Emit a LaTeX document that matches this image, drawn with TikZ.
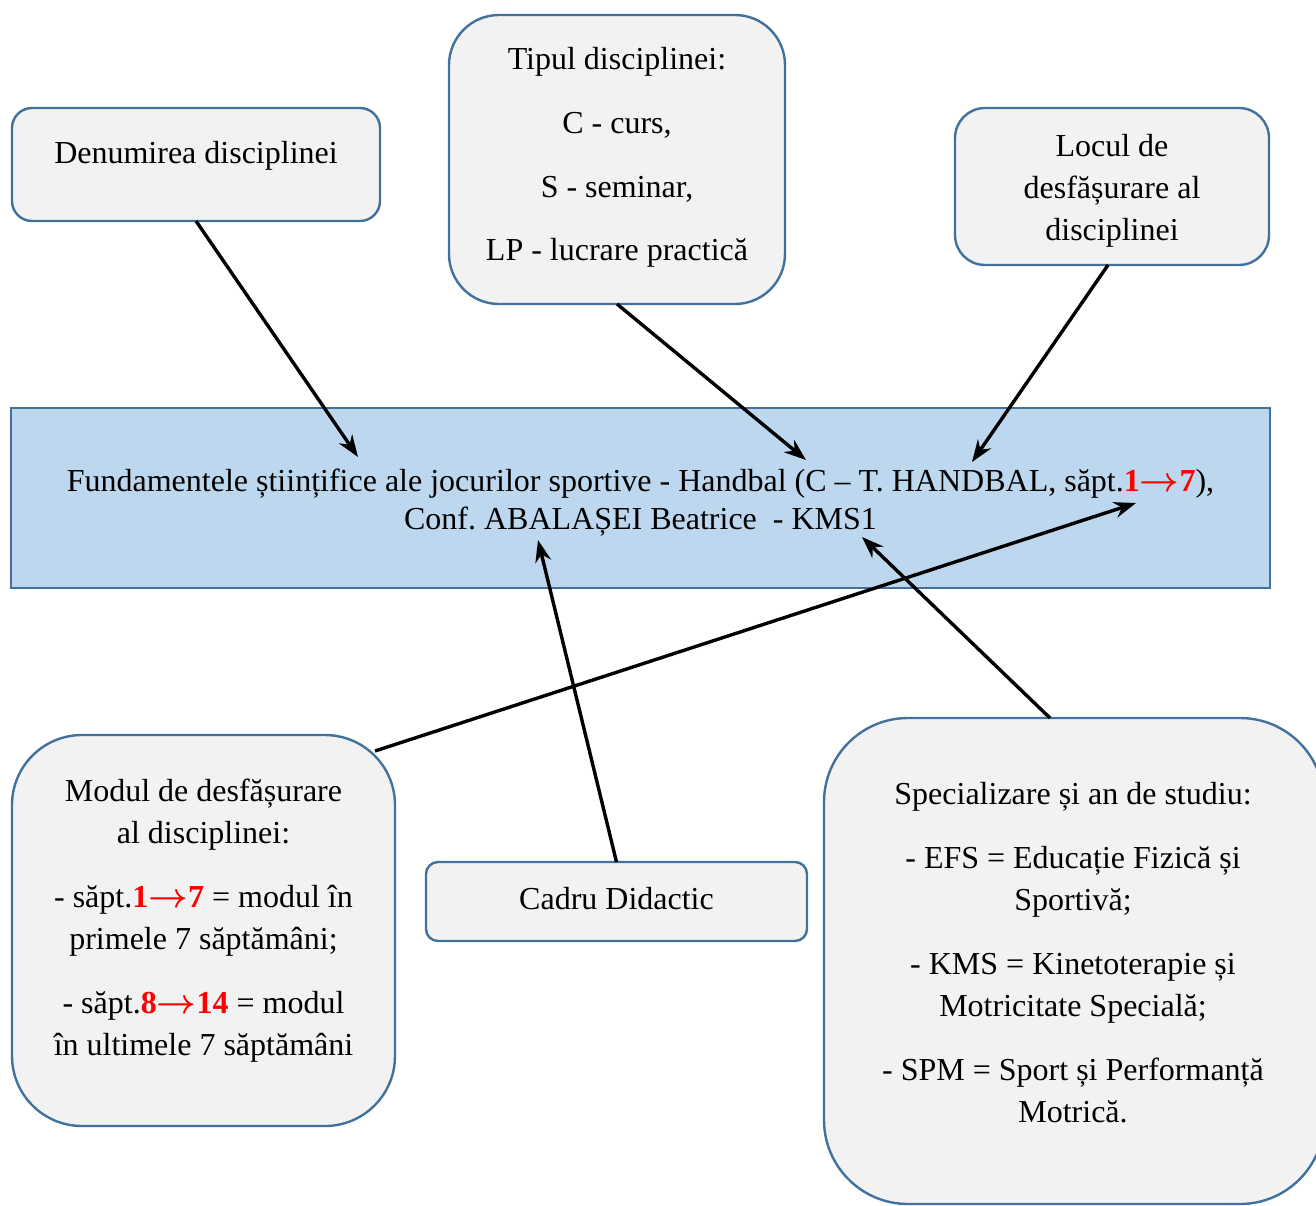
\documentclass[tikz,border=0pt]{standalone}
\usepackage{fontspec}
\setmainfont{Liberation Serif}
\usetikzlibrary{arrows.meta}
\definecolor{boxfill}{HTML}{F2F2F2}
\definecolor{boxline}{HTML}{41719C}
\definecolor{mainfill}{HTML}{BDD7EE}
\definecolor{hl}{HTML}{FF0000}
\newcommand{\hlt}[2]{\textcolor{hl}{\textbf{#1}{\boldmath$\rightarrow$}\textbf{#2}}}
\frenchspacing
\begin{document}
\begin{tikzpicture}[x=0.5pt,y=-0.5pt,
  box/.style={draw=boxline, line width=1.2pt, fill=boxfill, inner sep=0pt, outer sep=0pt},
  mainbox/.style={draw=boxline, line width=1.2pt, fill=mainfill, inner sep=0pt, outer sep=0pt},
  txt/.style={align=center, inner sep=0pt, font=\fontsize{16pt}{21pt}\selectfont},
  conn/.style={line width=1.7pt, -{Stealth[length=11pt,width=8pt]}}]
\useasboundingbox (0,0) rectangle (1316,1205);
\clip (0,0) rectangle (1316,1205);
% boxes
\node[box, rounded corners=10pt, minimum width=184pt, minimum height=56.5pt] (den) at (196,164.5) {};
\node[box, rounded corners=25pt, minimum width=168pt, minimum height=144.5pt] (tip) at (617,159.5) {};
\node[box, rounded corners=15pt, minimum width=157pt, minimum height=78.5pt] (loc) at (1112,186.5) {};
\node[mainbox, minimum width=629.5pt, minimum height=90pt] (main) at (640.5,498) {};
\node[box, rounded corners=35pt, minimum width=191.5pt, minimum height=195.5pt] (mod) at (203.5,930.5) {};
\node[box, rounded corners=6pt, minimum width=190.5pt, minimum height=39.5pt] (cad) at (616.5,901.5) {};
\node[box, rounded corners=42pt, minimum width=250pt, minimum height=243pt] (spec) at (1074,961) {};
% texts
\node[txt] (dent) at (196,156) {Denumirea disciplinei};
\node[txt] (tipt) at (617,157.5) {Tipul disciplinei:\\[10.85pt] C - curs,\\[10.85pt] S - seminar,\\[10.85pt] LP - lucrare practică};
\node[txt] (loct) at (1112,191) {Locul de\\ desfășurare al\\ disciplinei};
\node[txt, font=\fontsize{16pt}{19pt}\selectfont] (maint) at (640.5,503) {Fundamentele științifice ale jocurilor sportive - Handbal (C – T. HANDBAL, săpt.\hlt{1}{7}),\\ Conf. ABALAȘEI Beatrice\ \ - KMS1};
\node[txt] (modt) at (203.5,920.5) {Modul de desfășurare\\ al disciplinei:\\[11pt] - săpt.\hlt{1}{7} = modul în\\ primele 7 săptămâni;\\[11pt] - săpt.\hlt{8}{14} = modul\\ în ultimele 7 săptămâni};
\node[txt] (cadt) at (616.5,899) {Cadru Didactic};
\node[txt] (spect) at (1073,953) {Specializare și an de studiu:\\[11pt] - EFS = Educație Fizică și\\ Sportivă;\\[11pt] - KMS = Kinetoterapie și\\ Motricitate Specială;\\[11pt] - SPM = Sport și Performanță\\ Motrică.};
% connector end points
\coordinate (a1) at (358,457);
\coordinate (a2) at (806,460);
\coordinate (s3) at (1108,265);
\coordinate (a3) at (972,462);
\coordinate (s4) at (375,751);
\coordinate (a4) at (1136,503);
\coordinate (a5) at (538,540);
\coordinate (s6) at (1050,718);
\coordinate (a6) at (862,537);
% connectors
\draw[conn] (den.south) -- (a1);
\draw[conn] (tip.south) -- (a2);
\draw[conn] (s3) -- (a3);
\draw[conn] (s4) -- (a4);
\draw[conn] (cad.north) -- (a5);
\draw[conn] (s6) -- (a6);
\end{tikzpicture}
\end{document}
